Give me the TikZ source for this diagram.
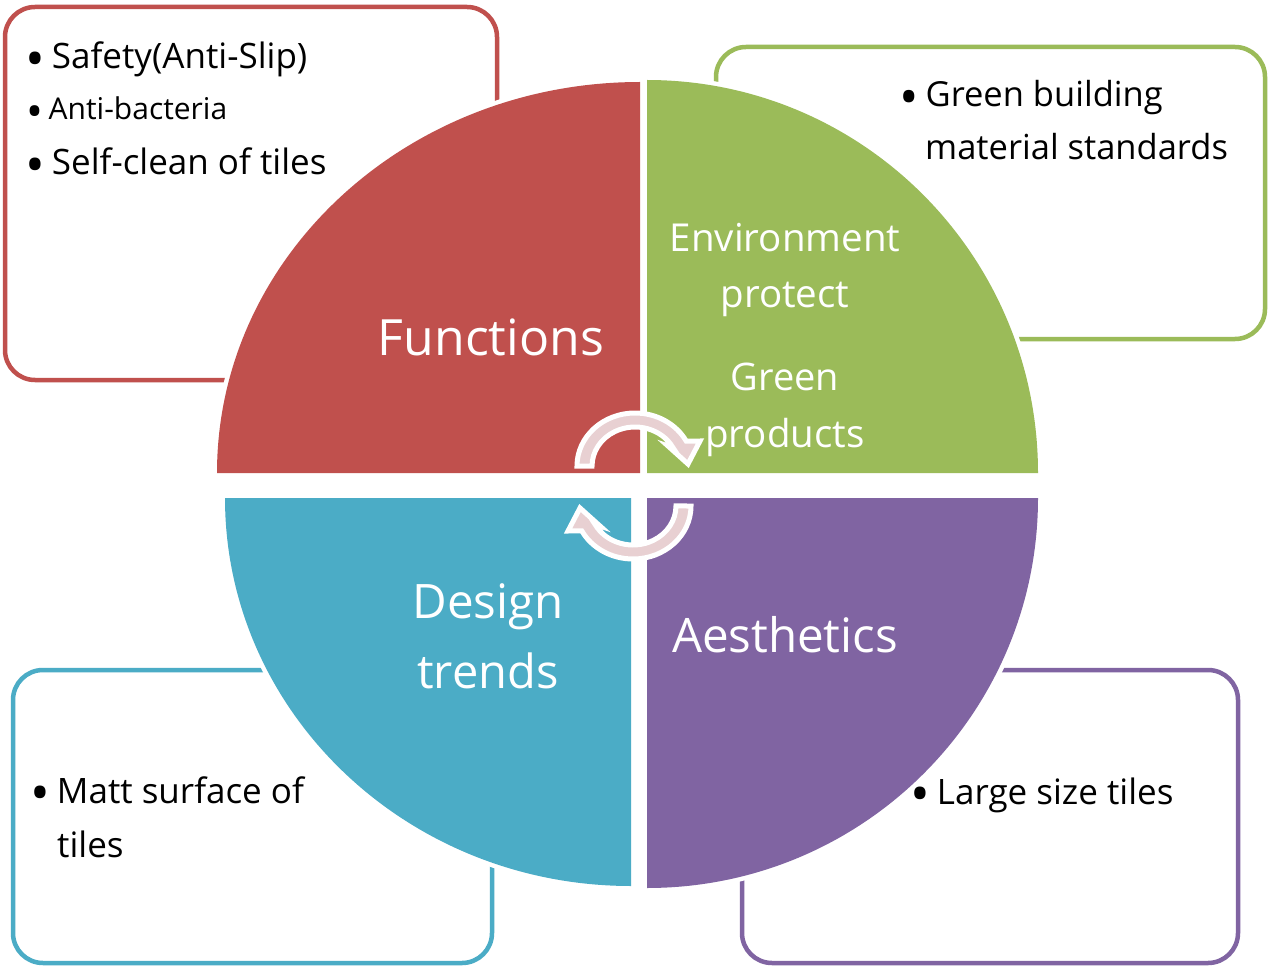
\documentclass[tikz,border=0pt]{standalone}
\usepackage{fontspec}
\usepackage{graphicx}
\setmainfont{Open Sans}
\definecolor{cred}{HTML}{C0504D}
\definecolor{cgreen}{HTML}{9BBB59}
\definecolor{cblue}{HTML}{4BACC6}
\definecolor{cpurple}{HTML}{8064A2}
\definecolor{cpink}{HTML}{E8D0D2}
\newcommand{\fsz}[1]{\fontsize{#1}{#1}\selectfont}
\newcommand{\bul}[1]{\makebox[0.65em][l]{\hspace{-0.1em}\raisebox{-0.24em}{\scalebox{1.5}{\textbullet}}}#1}
\begin{document}
\begin{tikzpicture}[x=1pt,y=-1pt,
  sidebox/.style={draw=#1, line width=4.5, rounded corners=30, fill=white},
  wedgebg/.style={fill=white, draw=white, line width=9, line join=round},
  listtext/.style={inner sep=0, anchor=base west, text=black, font=\fsz{35}},
  wedgetext/.style={inner sep=0, anchor=base, text=white},
  cyclearrow/.style={fill=cpink, draw=white, line width=5, line join=miter}]
\useasboundingbox (0,0) rectangle (1268,973);
\fill[white] (0,0) rectangle (1268,973);

% side boxes
\draw[sidebox=cred] (5,7) rectangle (497,380);
\draw[sidebox=cgreen] (716,47) rectangle (1265,339);
\draw[sidebox=cblue] (13,670) rectangle (492,963);
\draw[sidebox=cpurple] (742,670) rectangle (1238,963);

% white halos of the wedges
\path[wedgebg] (640,473) -- ++(-423,0) arc[start angle=180, end angle=270, x radius=423, y radius=391] -- cycle;
\path[wedgebg] (647,473) -- ++(0,-393) arc[start angle=270, end angle=360, x radius=391, y radius=393] -- cycle;
\path[wedgebg] (631,498) -- ++(-406,0) arc[start angle=180, end angle=90, x radius=406, y radius=388] -- cycle;
\path[wedgebg] (647,498) -- ++(391,0) arc[start angle=0, end angle=90, x radius=391, y radius=390] -- cycle;

% wedges
\fill[cred] (640,473) -- ++(-423,0) arc[start angle=180, end angle=270, x radius=423, y radius=391] -- cycle;
\fill[cgreen] (647,473) -- ++(0,-393) arc[start angle=270, end angle=360, x radius=391, y radius=393] -- cycle;
\fill[cblue] (631,498) -- ++(-406,0) arc[start angle=180, end angle=90, x radius=406, y radius=388] -- cycle;
\fill[cpurple] (647,498) -- ++(391,0) arc[start angle=0, end angle=90, x radius=391, y radius=390] -- cycle;

% cycle arrows
\path[cyclearrow] (577,466) arc[start angle=180, end angle=332, x radius=58, y radius=53]
  -- (700,441) -- (688,464) -- (668,446)
  -- (673,447.7) arc[start angle=332, end angle=180, x radius=43, y radius=39] -- cycle;
\begin{scope}[rotate around={180:(634,486)}]
\path[cyclearrow] (577,466) arc[start angle=180, end angle=332, x radius=58, y radius=53]
  -- (700,441) -- (688,464) -- (668,446)
  -- (673,447.7) arc[start angle=332, end angle=180, x radius=43, y radius=39] -- cycle;
\end{scope}

% wedge labels
\node[wedgetext, font=\fsz{50}] (fun) at (491,355) {Functions};
\node[wedgetext, font=\fsz{38.5}] (env1) at (785,252) {Environment};
\node[wedgetext, font=\fsz{38.5}] (env2) at (785,308) {protect};
\node[wedgetext, font=\fsz{38}] (grn1) at (785,390) {Green};
\node[wedgetext, font=\fsz{38.5}] (grn2) at (785,447) {products};
\node[wedgetext, font=\fsz{47.5}] (des1) at (488,618) {Design};
\node[wedgetext, font=\fsz{47}] (des2) at (488,688) {trends};
\node[wedgetext, font=\fsz{47.5}] (aes) at (785,652) {Aesthetics};

% box texts
\node[listtext] (r1) at (29,69) {\bul{Safety(Anti-Slip)}};
\node[listtext, font=\fsz{30}] (r2) at (29,120) {\bul{Anti-bacteria}};
\node[listtext] (r3) at (29,175) {\bul{Self-clean of tiles}};
\node[listtext, font=\fsz{34.5}] (g1) at (903,107) {\bul{Green building}};
\node[listtext, font=\fsz{34.5}] (g2) at (925,160) {material standards};
\node[listtext] (b1) at (34,803) {\bul{Matt surface of}};
\node[listtext] (b2) at (57,857) {tiles};
\node[listtext] (p1) at (914,804) {\bul{Large size tiles}};
\end{tikzpicture}
\end{document}
